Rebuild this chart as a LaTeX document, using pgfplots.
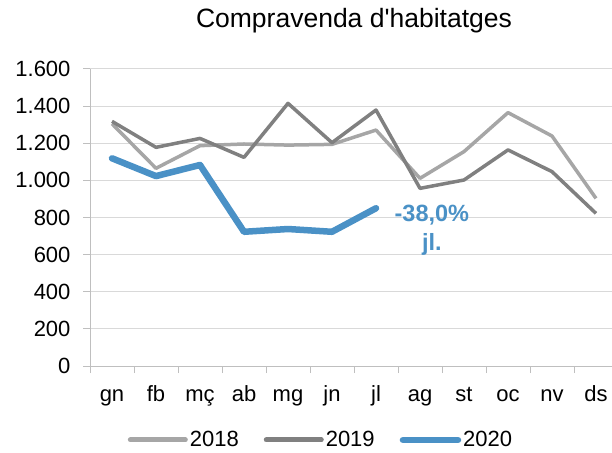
\documentclass[border=0pt]{standalone}
\usepackage{fontspec}
\setmainfont{Liberation Sans}
\usepackage{pgfplots}
\pgfplotsset{compat=1.18}

\definecolor{c2018}{HTML}{A6A6A6}
\definecolor{c2019}{HTML}{808080}
\definecolor{c2020}{HTML}{4A91C6}
\definecolor{gridgray}{HTML}{D9D9D9}
\definecolor{axisgray}{HTML}{BFBFBF}

\begin{document}
\begin{tikzpicture}
\useasboundingbox (0pt,0pt) rectangle (612pt,452pt);
\begin{axis}[
    at={(90pt,86pt)}, anchor=south west,
    scale only axis, width=528pt, height=297pt,
    xmin=-0.5, xmax=11.5, ymin=0, ymax=1600,
    xtick={-0.5,0.5,...,10.5},
    xticklabels={gn,fb,mç,ab,mg,jn,jl,ag,st,oc,nv,ds},
    xticklabel style={xshift=22pt, text height=16pt, text depth=5pt, yshift=-9pt},
    ytick={0,200,...,1600},
    yticklabels={0,200,400,600,800,1.000,1.200,1.400,1.600},
    yticklabel style={xshift=-9pt},
    axis lines*=left,
    axis line style={draw=axisgray, line width=1pt, -},
    tick align=outside, major tick length=7pt,
    tick style={draw=axisgray, line width=1pt},
    ymajorgrids, grid style={draw=gridgray, line width=1pt},
    ticklabel style={font=\fontsize{22}{26}\selectfont},
    title={Compravenda d\textquotesingle habitatges},
    title style={font=\fontsize{26.5}{30}\selectfont, at={(0.5,1)}, anchor=base, yshift=35pt},
    legend style={at={(0.4375,-0.249)}, anchor=center, draw=none, fill=none,
        legend columns=-1, font=\fontsize{22}{26}\selectfont,
        nodes={inner sep=2pt},
        /tikz/every even column/.append style={column sep=23pt}},
    clip=false,
]
\addplot[c2018, line width=3.5pt, line join=round,
    legend image code/.code={\draw[c2018, line width=5pt, line cap=round] (0pt,0pt) -- (55pt,0pt);}]
    coordinates {(0,1305) (1,1065) (2,1187) (3,1196) (4,1190) (5,1194) (6,1271) (7,1011) (8,1155) (9,1365) (10,1239) (11,903)};
\addlegendentry{2018}
\addplot[c2019, line width=3.5pt, line join=round,
    legend image code/.code={\draw[c2019, line width=5pt, line cap=round] (0pt,0pt) -- (55pt,0pt);}]
    coordinates {(0,1318) (1,1178) (2,1226) (3,1124) (4,1415) (5,1203) (6,1379) (7,957) (8,1002) (9,1164) (10,1047) (11,822)};
\addlegendentry{2019}
\addplot[c2020, line width=6.5pt, line join=round, line cap=round,
    legend image code/.code={\draw[c2020, line width=6.5pt, line cap=round] (0pt,0pt) -- (55pt,0pt);}]
    coordinates {(0,1119) (1,1023) (2,1083) (3,723) (4,738) (5,723) (6,850)};
\addlegendentry{2020}
\node[text=c2020, font=\bfseries\fontsize{23.5}{29}\selectfont, align=center]
    at (axis cs:7.27,733) {-38,0\%\\jl.};
\end{axis}
\end{tikzpicture}
\end{document}
